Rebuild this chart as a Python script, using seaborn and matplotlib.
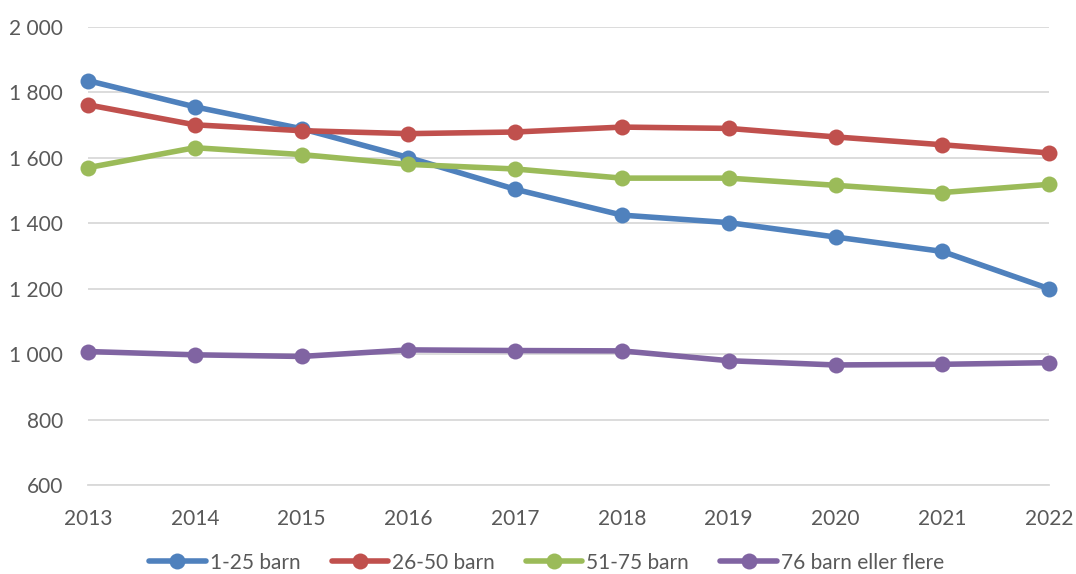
import pandas as pd
import matplotlib
matplotlib.use("Agg")
import matplotlib.pyplot as plt
import seaborn as sns

# Daten
aar = [2013, 2014, 2015, 2016, 2017, 2018, 2019, 2020, 2021, 2022]
barn_1_25 = [1836, 1756, 1689, 1601, 1504, 1425, 1402, 1358, 1314, 1200]
barn_26_50 = [1762, 1701, 1683, 1674, 1679, 1694, 1690, 1664, 1640, 1615]
barn_51_75 = [1570, 1631, 1610, 1580, 1566, 1538, 1538, 1516, 1494, 1519]
barn_76 = [1008, 998, 993, 1013, 1011, 1010, 980, 967, 969, 974]
grupper = ["1-25 barn", "26-50 barn", "51-75 barn", "76 barn eller flere"]
farger = ["#4F81BD", "#C0504D", "#9BBB59", "#8064A2"]

serier = [barn_1_25, barn_26_50, barn_51_75, barn_76]
rows = []
for g, verdier in zip(grupper, serier):
    for a, v in zip(aar, verdier):
        rows.append({"år": a, "antall": v, "gruppe": g})
df = pd.DataFrame(rows)

sns.set_style("white")
plt.rcParams["font.family"] = ["Lato", "DejaVu Sans"]

fig = plt.figure(figsize=(10.76, 5.74), dpi=100)
ax = fig.add_axes([0.0818, 0.155, 0.975 - 0.0818, 0.953 - 0.155])

sns.lineplot(data=df, x="år", y="antall", hue="gruppe", hue_order=grupper,
             palette=farger, marker="o", markersize=11.5, markeredgewidth=0,
             linewidth=4, ax=ax, legend=True)
for line in ax.lines:
    line.set_clip_on(False)

ax.set_xlim(2013, 2022)
ax.set_ylim(600, 2000)
ax.set_xticks(aar)
ax.set_yticks(range(600, 2001, 200))
ax.set_yticklabels([f"{v:,}".replace(",", " ") for v in range(600, 2001, 200)])
ax.set_xlabel("")
ax.set_ylabel("")

ax.grid(True, axis="y", color="#D9D9D9", linewidth=1.3)
ax.set_axisbelow(True)
for s in ["left", "right", "top"]:
    ax.spines[s].set_visible(False)
ax.spines["bottom"].set_color("#D9D9D9")
ax.spines["bottom"].set_linewidth(1.3)
ax.tick_params(axis="x", direction="in", length=6, width=1.3, color="#D9D9D9",
               labelsize=15, labelcolor="#595959", pad=17)
ax.tick_params(axis="y", length=0, labelsize=15, labelcolor="#595959", pad=18)

handles, labels = ax.get_legend_handles_labels()
ax.get_legend().remove()
fig.legend(handles, labels, loc="center", bbox_to_anchor=(0.508, 0.02),
           ncol=4, frameon=False, fontsize=15, labelcolor="#595959",
           handlelength=2.7, handletextpad=0.2, columnspacing=1.5)

fig.savefig("out.png", dpi=100)
